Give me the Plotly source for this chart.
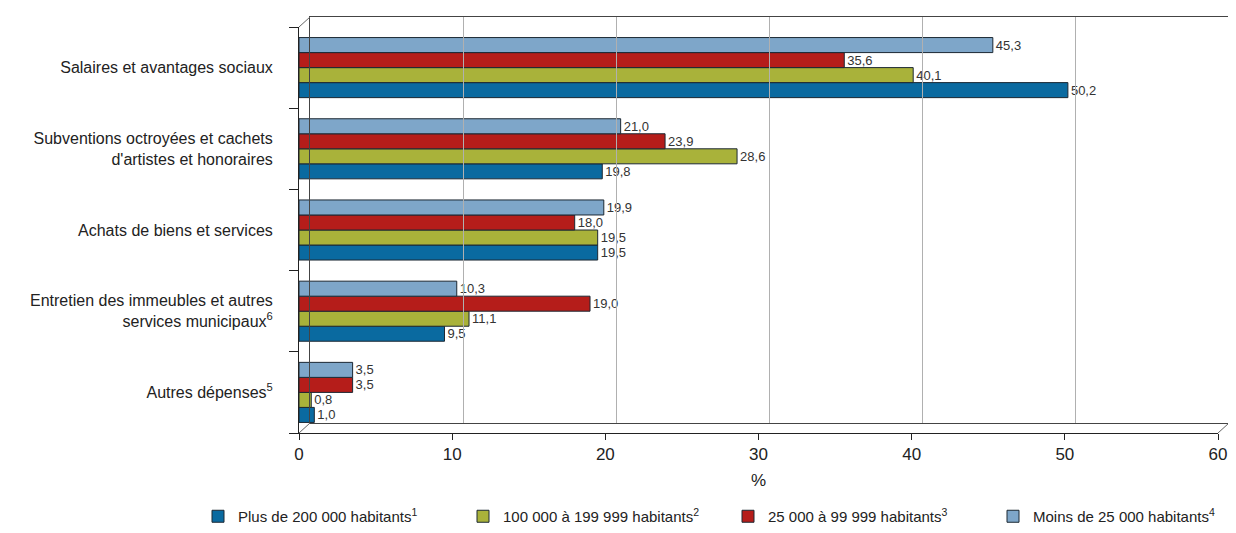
import plotly.graph_objects as go

categories = [
    "Salaires et avantages sociaux",
    "Subventions octroyées et cachets<br>d'artistes et honoraires",
    "Achats de biens et services",
    "Entretien des immeubles et autres<br>services municipaux<sup>6</sup>",
    "Autres dépenses<sup>5</sup>",
]
series_names = [
    "Plus de 200 000 habitants<sup>1</sup>",
    "100 000 à 199 999 habitants<sup>2</sup>",
    "25 000 à 99 999 habitants<sup>3</sup>",
    "Moins de 25 000 habitants<sup>4</sup>",
]
plus_200k = [50.2, 19.8, 19.5, 9.5, 1.0]
from_100k = [40.1, 28.6, 19.5, 11.1, 0.8]
from_25k = [35.6, 23.9, 18.0, 19.0, 3.5]
under_25k = [45.3, 21.0, 19.9, 10.3, 3.5]
series_values = [plus_200k, from_100k, from_25k, under_25k]
colors = ["#0a6aa0", "#a9b23a", "#b51d1a", "#7ea6c9"]
x_ticks = [0, 10, 20, 30, 40, 50, 60]

FONT = "Liberation Sans Narrow, Arial Narrow, Liberation Sans, sans-serif"
OFF = 8  # page body margin
W, H = 1236 - OFF, 533 - OFF

def fx(px):
    return (px - OFF) / W

def fy(py):
    return 1 - (py - OFF) / H

fig = go.Figure()

# back wall (decorative grid) subplot
fig.add_trace(go.Scatter(x=[None], y=[None], xaxis="x2", yaxis="y2",
                         showlegend=False, hoverinfo="skip"))

for name, vals, col in zip(series_names, series_values, colors):
    fig.add_trace(go.Bar(
        y=categories, x=vals, name=name, orientation="h",
        marker=dict(color=col, line=dict(color="#1c2833", width=1)),
        text=[f"{v:.1f}".replace(".", ",") for v in vals],
        textposition="outside", cliponaxis=False,
        textfont=dict(family=FONT, size=13, color="#333333"),
    ))

frame_lines = [((299, 27), (310, 17)), ((299, 433), (310, 423)), ((1218, 433), (1229, 423))]
shapes = [dict(type="line", xref="paper", yref="paper",
               x0=fx(a[0]), y0=fy(a[1]), x1=fx(b[0]), y1=fy(b[1]),
               line=dict(color="#666", width=1)) for a, b in frame_lines]

fig.update_layout(
    template="none",
    width=W, height=H,
    margin=dict(l=0, r=0, t=0, b=0, autoexpand=False),
    paper_bgcolor="white", plot_bgcolor="rgba(0,0,0,0)",
    barmode="group", bargap=0.26, bargroupgap=0,
    font=dict(family=FONT, size=15, color="#222222"),
    shapes=shapes,
    xaxis=dict(domain=[fx(299), fx(1218)], range=[0, 60], tickvals=x_ticks,
               showgrid=False, zeroline=False, showline=True, linecolor="#222",
               ticks="outside", ticklen=6, tickcolor="#222", automargin=False,
               tickfont=dict(size=17, color="#222"),
               title=dict(text="%", font=dict(size=17), standoff=10),
               anchor="y"),
    yaxis=dict(domain=[fy(433), fy(27)], categoryorder="array",
               categoryarray=categories[::-1],
               showgrid=False, showline=True, linecolor="#222",
               ticks="outside", ticklen=9, tickcolor="#222", automargin=False,
               tickson="boundaries", ticklabelstandoff=22,
               tickfont=dict(size=16, color="#222"), anchor="x"),
    xaxis2=dict(domain=[fx(310), fx(1229)], range=[0, 60], tickvals=x_ticks,
                showgrid=True, gridcolor="#b0b0b0", gridwidth=1, automargin=False,
                showticklabels=False, zeroline=False, showline=True, ticks="",
                linecolor="#444", mirror=True, anchor="y2"),
    yaxis2=dict(domain=[fy(423), fy(17)], range=[0, 1], showgrid=False,
                showticklabels=False, zeroline=False, showline=True, ticks="",
                linecolor="#444", mirror=True, anchor="x2", automargin=False),
    legend=dict(orientation="h", x=fx(198), xanchor="left", y=0.0, yanchor="bottom",
                font=dict(size=15, color="#222"), traceorder="normal",
                entrywidth=220, entrywidthmode="pixels",
                itemwidth=30, bgcolor="rgba(0,0,0,0)"),
    showlegend=True,
)

fig.write_html("out.html")
